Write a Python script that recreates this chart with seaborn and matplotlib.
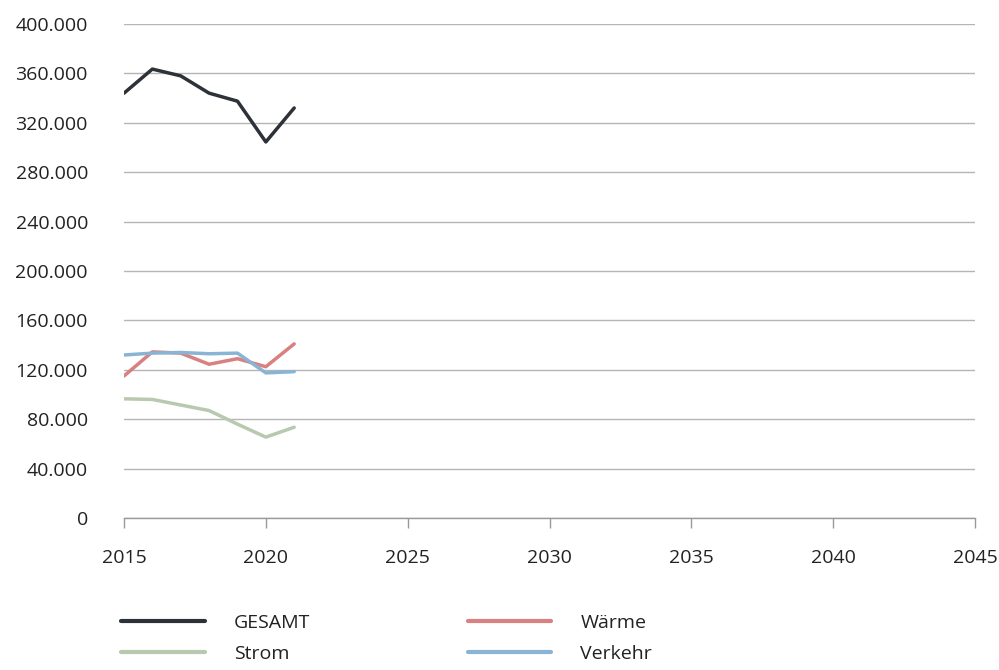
import pandas as pd
import matplotlib.pyplot as plt
import seaborn as sns
from matplotlib.ticker import FuncFormatter

years = [2015, 2016, 2017, 2018, 2019, 2020, 2021]
gesamt = [344000, 363500, 358000, 344000, 337500, 304500, 332000]
strom = [96500, 96000, 91500, 87000, 76000, 65500, 73500]
waerme = [115000, 134500, 133500, 124500, 129000, 122500, 141000]
verkehr = [132000, 133500, 134000, 133000, 133500, 117500, 118500]

series_names = ['GESAMT', 'Strom', 'Wärme', 'Verkehr']
colors = ['#2d3238', '#b8c9b0', '#d98080', '#8ab4d4']

df = pd.DataFrame({'Jahr': years, 'GESAMT': gesamt, 'Strom': strom,
                   'Wärme': waerme, 'Verkehr': verkehr})
long_df = df.melt(id_vars='Jahr', var_name='Sektor', value_name='Wert')

sns.set_theme(style="white")
plt.rcParams['font.family'] = ['Open Sans', 'DejaVu Sans']

fig = plt.figure(figsize=(9.99, 6.7), dpi=100)
ax = fig.add_axes([124 / 999, 1 - 518 / 670, (975 - 124) / 999, (518 - 24) / 670])

sns.lineplot(data=long_df, x='Jahr', y='Wert', hue='Sektor', hue_order=series_names,
             palette=dict(zip(series_names, colors)), linewidth=2.5, ax=ax, legend=False)

ax.set_xlim(2015, 2045)
ax.set_ylim(0, 400000)
ax.set_xticks(range(2015, 2046, 5))
ax.set_yticks(range(0, 400001, 40000))
ax.yaxis.set_major_formatter(FuncFormatter(lambda v, p: f'{int(v):,}'.replace(',', '.')))
ax.grid(axis='y', color='#b5b5b5', linewidth=1)
ax.set_axisbelow(True)
for s in ['left', 'right', 'top']:
    ax.spines[s].set_visible(False)
ax.spines['bottom'].set_color('#999999')
ax.spines['bottom'].set_linewidth(1)
ax.tick_params(axis='x', bottom=True, length=7, color='#999999', width=1,
               pad=15, labelsize=14, labelcolor='#222222')
ax.tick_params(axis='y', left=False, pad=20, labelsize=14, labelcolor='#222222')
ax.set_xlabel('')
ax.set_ylabel('')

handles = [plt.Line2D([], [], color=c, linewidth=3) for c in colors]
fig.legend(handles, series_names, ncol=2, loc='upper left', frameon=False,
           bbox_to_anchor=(121 / 999, 1 - 614 / 670), borderaxespad=0, borderpad=0,
           handlelength=4.3, handletextpad=1.5, columnspacing=8.1,
           labelspacing=0.65, fontsize=14, labelcolor='#222222')

fig.savefig('out.png', dpi=100)
